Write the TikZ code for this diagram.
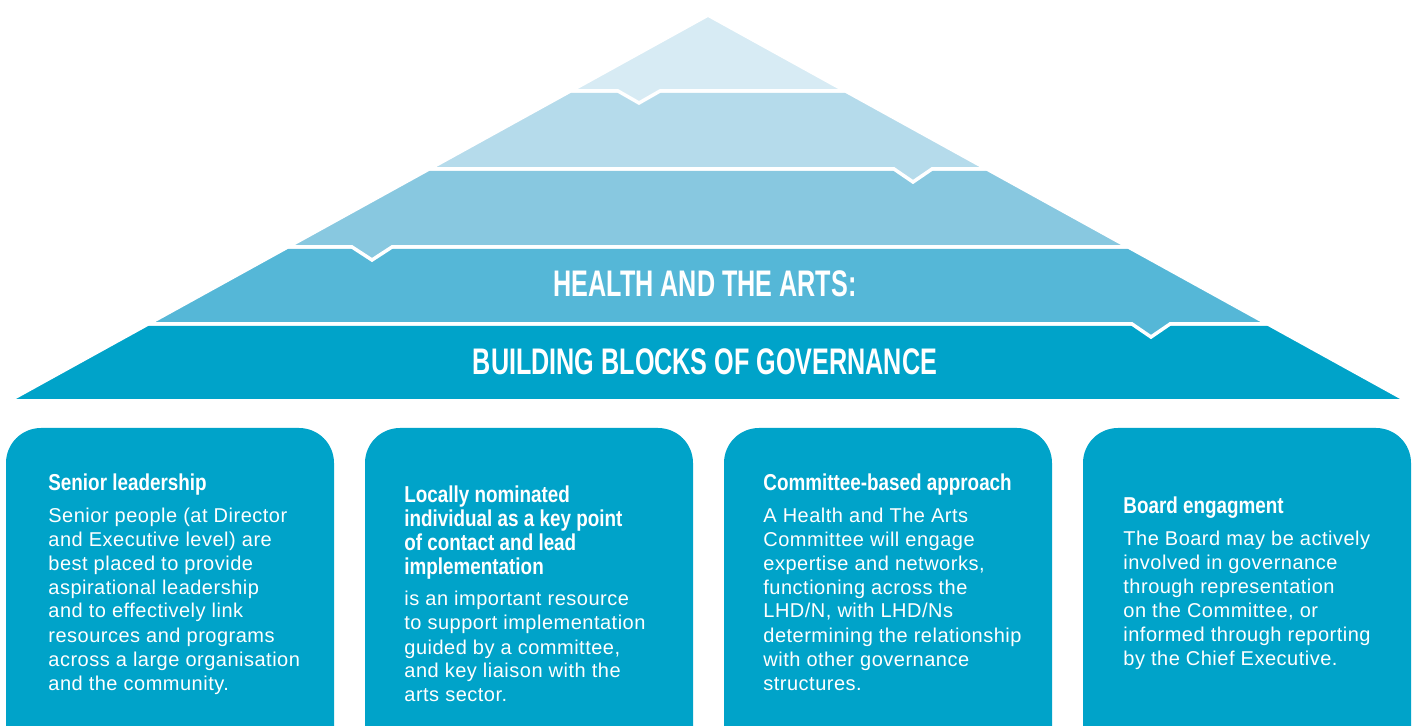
\documentclass[tikz,border=0pt]{standalone}
\usepackage{fontspec}
\usepackage{tikz}
\usetikzlibrary{positioning}
\newfontfamily\headfont[FakeStretch=0.68]{Liberation Sans}
\newfontfamily\titlefont[FakeStretch=0.82]{Liberation Sans}
\newfontfamily\bodyfont[LetterSpace=2.5]{Liberation Sans}
\definecolor{tierone}{RGB}{215,235,244}
\definecolor{tiertwo}{RGB}{181,219,235}
\definecolor{tierthree}{RGB}{136,200,224}
\definecolor{tierfour}{RGB}{85,183,215}
\definecolor{govblue}{RGB}{0,163,201}

\begin{document}
\begin{tikzpicture}[
  x=0.5pt, y=-0.5pt,
  node distance=15.5pt,
  tier/.style={draw=white, line width=1.75pt, line join=miter},
  card/.style={rectangle, fill=govblue, rounded corners=17.5pt, outer sep=0pt,
               minimum width=164pt, minimum height=186pt, inner sep=0pt},
  head/.style={text=white, inner sep=0pt,
               font=\headfont\bfseries\fontsize{18.5}{22}\selectfont},
  % multi-line nodes: base anchor sits on the last line
  cardtitle/.style={text=white, anchor=base west, align=left, inner sep=0pt,
                    font=\titlefont\bfseries\fontsize{11.5}{12}\selectfont},
  cardbody/.style={text=white, anchor=base west, align=left, inner sep=0pt,
                   font=\bodyfont\fontsize{10}{12}\selectfont}
]
\useasboundingbox (0,0) rectangle (1414,726);
\clip (0,0) rectangle (1414,726);

% ===== Pyramid tiers (bottom first, each tab overlaps the tier below) =====
\fill[govblue, tier] (148.1,324) -- (1267.9,324) -- (1407.4,401) -- (8.6,401) -- cycle;
\fill[tierfour, tier] (287.7,247) -- (1128.3,247) -- (1267.9,324) -- (1170,324)
  -- (1151,337) -- (1132,324) -- (148.1,324) -- cycle;
\fill[tierthree, tier] (429.1,169) -- (986.9,169) -- (1128.3,247) -- (392,247)
  -- (372,260) -- (352,247) -- (287.7,247) -- cycle;
\fill[tiertwo, tier] (570.5,91) -- (845.5,91) -- (986.9,169) -- (932,169)
  -- (913,182) -- (894,169) -- (429.1,169) -- cycle;
\fill[tierone, tier] (708,15.1) -- (845.5,91) -- (660,91) -- (639,103)
  -- (618,91) -- (570.5,91) -- cycle;

% ===== Heading =====
\node[head] (headtop) at (705,284) {HEALTH AND THE ARTS:};
\node[head] (headbot) at (705,362) {BUILDING BLOCKS OF GOVERNANCE};

% ===== Cards =====
\node[card, anchor=north west] (card1) at (6,428) {};
\node[card, right=of card1] (card2) {};
\node[card, right=of card2] (card3) {};
\node[card, right=of card3] (card4) {};

% ===== Card texts =====
\node[cardtitle] (title1) at ([shift={(42,63)}]card1.north west) {Senior leadership};
\node[cardbody]  (body1)  at ([shift={(42,262)}]card1.north west)
     {Senior people (at Director\\and Executive level) are\\best placed to provide\\
      aspirational leadership\\and to effectively link\\resources and programs\\
      across a large organisation\\and the community.};

\node[cardtitle] (title2) at ([shift={(39,147)}]card2.north west)
     {Locally nominated\\individual as a key point\\of contact and lead\\implementation};
\node[cardbody]  (body2)  at ([shift={(39,274)}]card2.north west)
     {is an important resource\\to support implementation\\guided by a committee,\\
      and key liaison with the\\arts sector.};

\node[cardtitle] (title3) at ([shift={(39,63)}]card3.north west) {Committee-based approach};
\node[cardbody]  (body3)  at ([shift={(39,262)}]card3.north west)
     {A Health and The Arts\\Committee will engage\\expertise and networks,\\
      functioning across the\\LHD/N, with LHD/Ns\\determining the relationship\\
      with other governance\\structures.};

\node[cardtitle] (title4) at ([shift={(40,86)}]card4.north west) {Board engagment};
\node[cardbody]  (body4)  at ([shift={(40,238)}]card4.north west)
     {The Board may be actively\\involved in governance\\through representation\\
      on the Committee, or\\informed through reporting\\by the Chief Executive.};

\end{tikzpicture}
\end{document}
